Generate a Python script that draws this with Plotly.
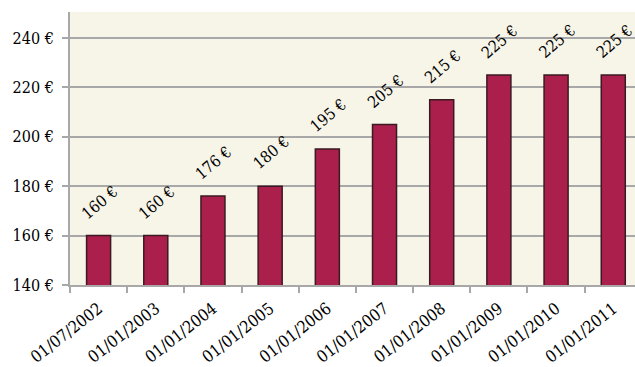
import plotly.graph_objects as go

categories = ["01/07/2002", "01/01/2003", "01/01/2004", "01/01/2005", "01/01/2006",
              "01/01/2007", "01/01/2008", "01/01/2009", "01/01/2010", "01/01/2011"]
values = [160, 160, 176, 180, 195, 205, 215, 225, 225, 225]
y_ticks = [140, 160, 180, 200, 220, 240]
y_tick_labels = [f"{v} €" for v in y_ticks]
value_labels = [f"{v} €" for v in values]

FONT = "DejaVu Serif Condensed"
GRID = "#A8A8A8"

fig = go.Figure()
fig.add_trace(go.Bar(
    x=categories, y=values, base=0, width=0.42,
    marker=dict(color="#AB1F4D", line=dict(color="#3A1A22", width=1.5)),
    hoverinfo="skip",
))

for c, v, t in zip(categories, values, value_labels):
    fig.add_annotation(x=c, y=v, text=t, showarrow=False, textangle=-40,
                       xanchor="center", yanchor="bottom", yshift=10, xshift=1,
                       font=dict(family=FONT, size=16, color="black"))

fig.update_layout(
    width=635, height=367,
    margin=dict(l=70, r=0, t=12, b=82),
    paper_bgcolor="white", plot_bgcolor="#F7F4E8",
    showlegend=False,
    font=dict(family=FONT, size=16, color="black"),
    bargap=0.58,
)
fig.update_xaxes(
    type="category", range=[-0.5, 9.38], tickangle=-38,
    tickson="boundaries", ticks="outside", ticklen=6, tickcolor=GRID, tickwidth=1.5,
    showline=True, linecolor=GRID, linewidth=1.5, showgrid=False,
    ticklabelstandoff=6,
    tickfont=dict(family=FONT, size=16.5),
)
fig.update_yaxes(
    range=[140, 250.5], tickvals=y_ticks, ticktext=y_tick_labels,
    ticks="outside", ticklen=6, tickcolor=GRID, tickwidth=1.5,
    showline=True, linecolor=GRID, linewidth=2,
    showgrid=True, gridcolor=GRID, gridwidth=1.5, zeroline=False,
    ticklabelstandoff=5,
    tickfont=dict(family=FONT, size=16),
)

fig.write_html("out.html")
